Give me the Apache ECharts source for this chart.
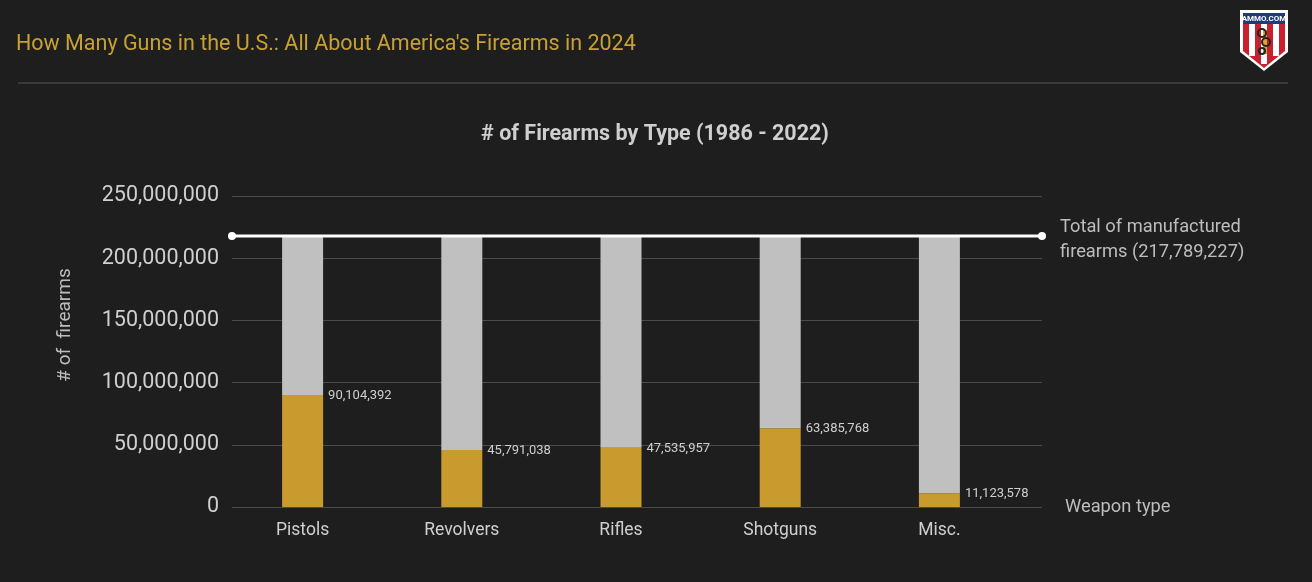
<!DOCTYPE html>
<html>
<head>
<meta charset="utf-8">
<script src="https://cdn.jsdelivr.net/npm/echarts@6/dist/echarts.min.js"></script>
<style>
html,body{margin:0;padding:0;background:#1e1e1e;}
#c{width:1312px;height:582px;}
</style>
</head>
<body>
<div id="c"></div>
<script>
const categories = ['Pistols', 'Revolvers', 'Rifles', 'Shotguns', 'Misc.'];
const firearmCounts = [90104392, 45791038, 47535957, 63385768, 11123578];
const totalManufactured = 217789227;
const yTicks = [0, 50000000, 100000000, 150000000, 200000000, 250000000];

const fmt = v => Number(v).toLocaleString('en-US');
const remainder = firearmCounts.map(v => totalManufactured - v);

const chart = echarts.init(document.getElementById('c'));
const font = 'Roboto, "Noto Sans", sans-serif';

chart.setOption({
  backgroundColor: '#1e1e1e',
  animation: false,
  title: [
    {text: "How Many Guns in the U.S.: All About America's Firearms in 2024", left: 11, top: 29,
     textStyle: {color: '#c9a133', fontSize: 21.5, fontWeight: 'normal', fontFamily: font}},
    {text: '# of Firearms by Type (1986 - 2022)', left: 650, textAlign: 'center', top: 119,
     textStyle: {color: '#cfcfcf', fontSize: 21.5, fontWeight: 'bold', fontFamily: font}}
  ],
  grid: [
    {left: 223, right: 293, top: 196, bottom: 75},
    {left: 232, right: 270, top: 196, bottom: 75}
  ],
  xAxis: [
    {type: 'category', gridIndex: 0, data: categories,
     axisLine: {show: false}, axisTick: {show: false},
     axisLabel: {color: '#cfcfcf', fontSize: 17.5, fontFamily: font, margin: 15}},
    {type: 'value', gridIndex: 1, min: 0, max: 1, show: false}
  ],
  yAxis: [
    {type: 'value', gridIndex: 0, min: 0, max: yTicks[yTicks.length - 1], interval: 50000000, show: false},
    {type: 'value', gridIndex: 1, min: 0, max: yTicks[yTicks.length - 1], interval: 50000000,
     axisLine: {show: false}, axisTick: {show: false},
     axisLabel: {color: '#cfcfcf', fontSize: 21.5, fontFamily: font, margin: 13, formatter: v => fmt(v)},
     splitLine: {lineStyle: {color: '#4a4a4a', width: 1}}}
  ],
  series: [
    {type: 'bar', xAxisIndex: 0, yAxisIndex: 0, stack: 'a', data: firearmCounts, barWidth: 41,
     itemStyle: {color: '#c99a2e'},
     label: {show: true, position: ['100%', 0], offset: [5, 1], align: 'left', verticalAlign: 'middle',
       color: '#cfcfcf', fontSize: 13, fontFamily: font, formatter: p => fmt(p.value)}},
    {type: 'bar', xAxisIndex: 0, yAxisIndex: 0, stack: 'a', data: remainder, barWidth: 41,
     itemStyle: {color: '#c0c0c0'}},
    {type: 'line', xAxisIndex: 1, yAxisIndex: 1, data: [[0, totalManufactured], [1, totalManufactured]],
     symbol: 'circle', symbolSize: 8, lineStyle: {color: '#ffffff', width: 3}, itemStyle: {color: '#ffffff'}, z: 5}
  ],
  graphic: [
    {type: 'line', shape: {x1: 18, y1: 83, x2: 1288, y2: 83}, style: {stroke: '#555555', lineWidth: 1}},
    {type: 'text', x: 65, y: 325, rotation: Math.PI / 2, style: {text: '# of  firearms', fill: '#bdbdbd', fontSize: 19,
      fontFamily: font, align: 'center', verticalAlign: 'middle'}},
    {type: 'text', left: 1060, top: 215, style: {text: 'Total of manufactured\nfirearms (' + fmt(totalManufactured) + ')',
      fill: '#bdbdbd', fontSize: 18.3, lineHeight: 25, fontFamily: font}},
    {type: 'text', left: 1065, top: 498, style: {text: 'Weapon type', fill: '#bdbdbd', fontSize: 18.3, fontFamily: font}},
    // logo
    {type: 'polygon', shape: {points: [[1240,10],[1288,10],[1288,52],[1264,71],[1240,52]]}, style: {fill: '#ffffff'}},
    {type: 'polygon', shape: {points: [[1243,13],[1285,13],[1285,51],[1264,68],[1243,51]]}, style: {fill: '#c8202f'}},
    {type: 'rect', shape: {x: 1249, y: 24, width: 6, height: 32}, style: {fill: '#ffffff'}},
    {type: 'rect', shape: {x: 1261, y: 24, width: 6, height: 40}, style: {fill: '#ffffff'}},
    {type: 'rect', shape: {x: 1273, y: 24, width: 6, height: 32}, style: {fill: '#ffffff'}},
    {type: 'rect', shape: {x: 1243, y: 13, width: 42, height: 11}, style: {fill: '#1f3b7a'}},
    {type: 'text', x: 1264, y: 19, style: {text: 'AMMO.COM', fill: '#ffffff', fontSize: 8, fontWeight: 'bold',
      fontFamily: font, align: 'center', verticalAlign: 'middle'}},
    {type: 'rect', shape: {x: 1263, y: 30, width: 4, height: 24}, style: {fill: '#d4a82a'}},
    {type: 'circle', shape: {cx: 1262, cy: 33, r: 4}, style: {fill: 'none', stroke: '#222', lineWidth: 2}},
    {type: 'circle', shape: {cx: 1266, cy: 42, r: 4}, style: {fill: 'none', stroke: '#222', lineWidth: 2}},
    {type: 'circle', shape: {cx: 1262, cy: 51, r: 3}, style: {fill: 'none', stroke: '#222', lineWidth: 2}}
  ]
});
</script>
</body>
</html>
